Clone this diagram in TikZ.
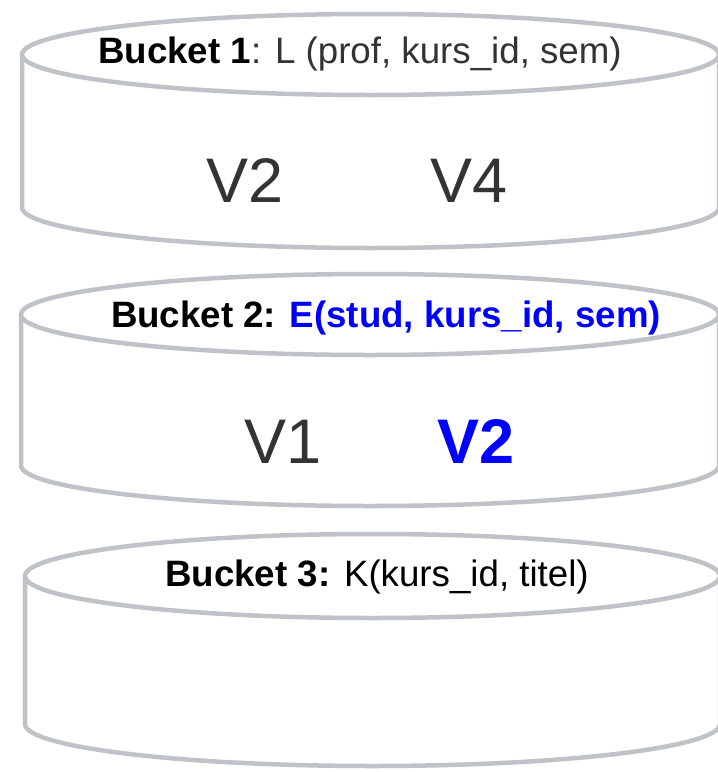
\documentclass[tikz,border=0pt]{standalone}
\usepackage{fontspec}
\setmainfont{Liberation Sans}
\definecolor{cylgray}{RGB}{191,195,199}
\definecolor{txtgray}{RGB}{51,51,51}
\definecolor{hiblue}{RGB}{0,0,255}
\newcommand{\drawcyl}[5]{% left, right, top cy, bottom cy, ry
  \pgfmathsetmacro{\cx}{(#1+#2)/2}
  \pgfmathsetmacro{\rx}{(#2-#1)/2}
  \draw[cylline] (#1,#3) -- (#1,#4)
     arc[start angle=180, end angle=0, x radius=\rx, y radius=#5]
     -- (#2,#3);
  \draw[cylline] (\cx,#3) ellipse[x radius=\rx, y radius=#5];
}
\begin{document}
\begin{tikzpicture}[x=1pt, y=-1pt,
  cylline/.style={draw=cylgray, line width=4.5pt, fill=white},
  bucketlabel/.style={anchor=base, inner sep=0pt, font=\fontsize{36.7}{40}\selectfont},
  bigv/.style={anchor=base, inner sep=0pt, text=txtgray, font=\fontsize{63}{70}\selectfont}]
\useasboundingbox[fill=white] (0,0) rectangle (718,772);
% cylinders
\drawcyl{22}{719}{54.5}{207.5}{40.5}
\drawcyl{21}{719}{314.5}{465.5}{40.5}
\drawcyl{25}{720}{576}{724}{42}
% texts
\node[bucketlabel] (b1) at (360,63) {\textbf{Bucket 1}\textcolor{txtgray}{: L (prof, kurs\_id, sem)}};
\node[bigv] (v2a) at (245,202) {V2};
\node[bigv] (v4) at (469,202) {V4};
\node[bucketlabel] (b2) at (386,327) {\textbf{Bucket 2: \textcolor{hiblue}{E(stud, kurs\_id, sem)}}};
\node[bigv] (v1) at (283,463) {V1};
\node[bigv, text=hiblue, font=\fontsize{63}{70}\selectfont\bfseries] (v2b) at (476,463) {V2};
\node[bucketlabel] (b3) at (377,586) {\textbf{Bucket 3:} K(kurs\_id, titel)};
\end{tikzpicture}
\end{document}
